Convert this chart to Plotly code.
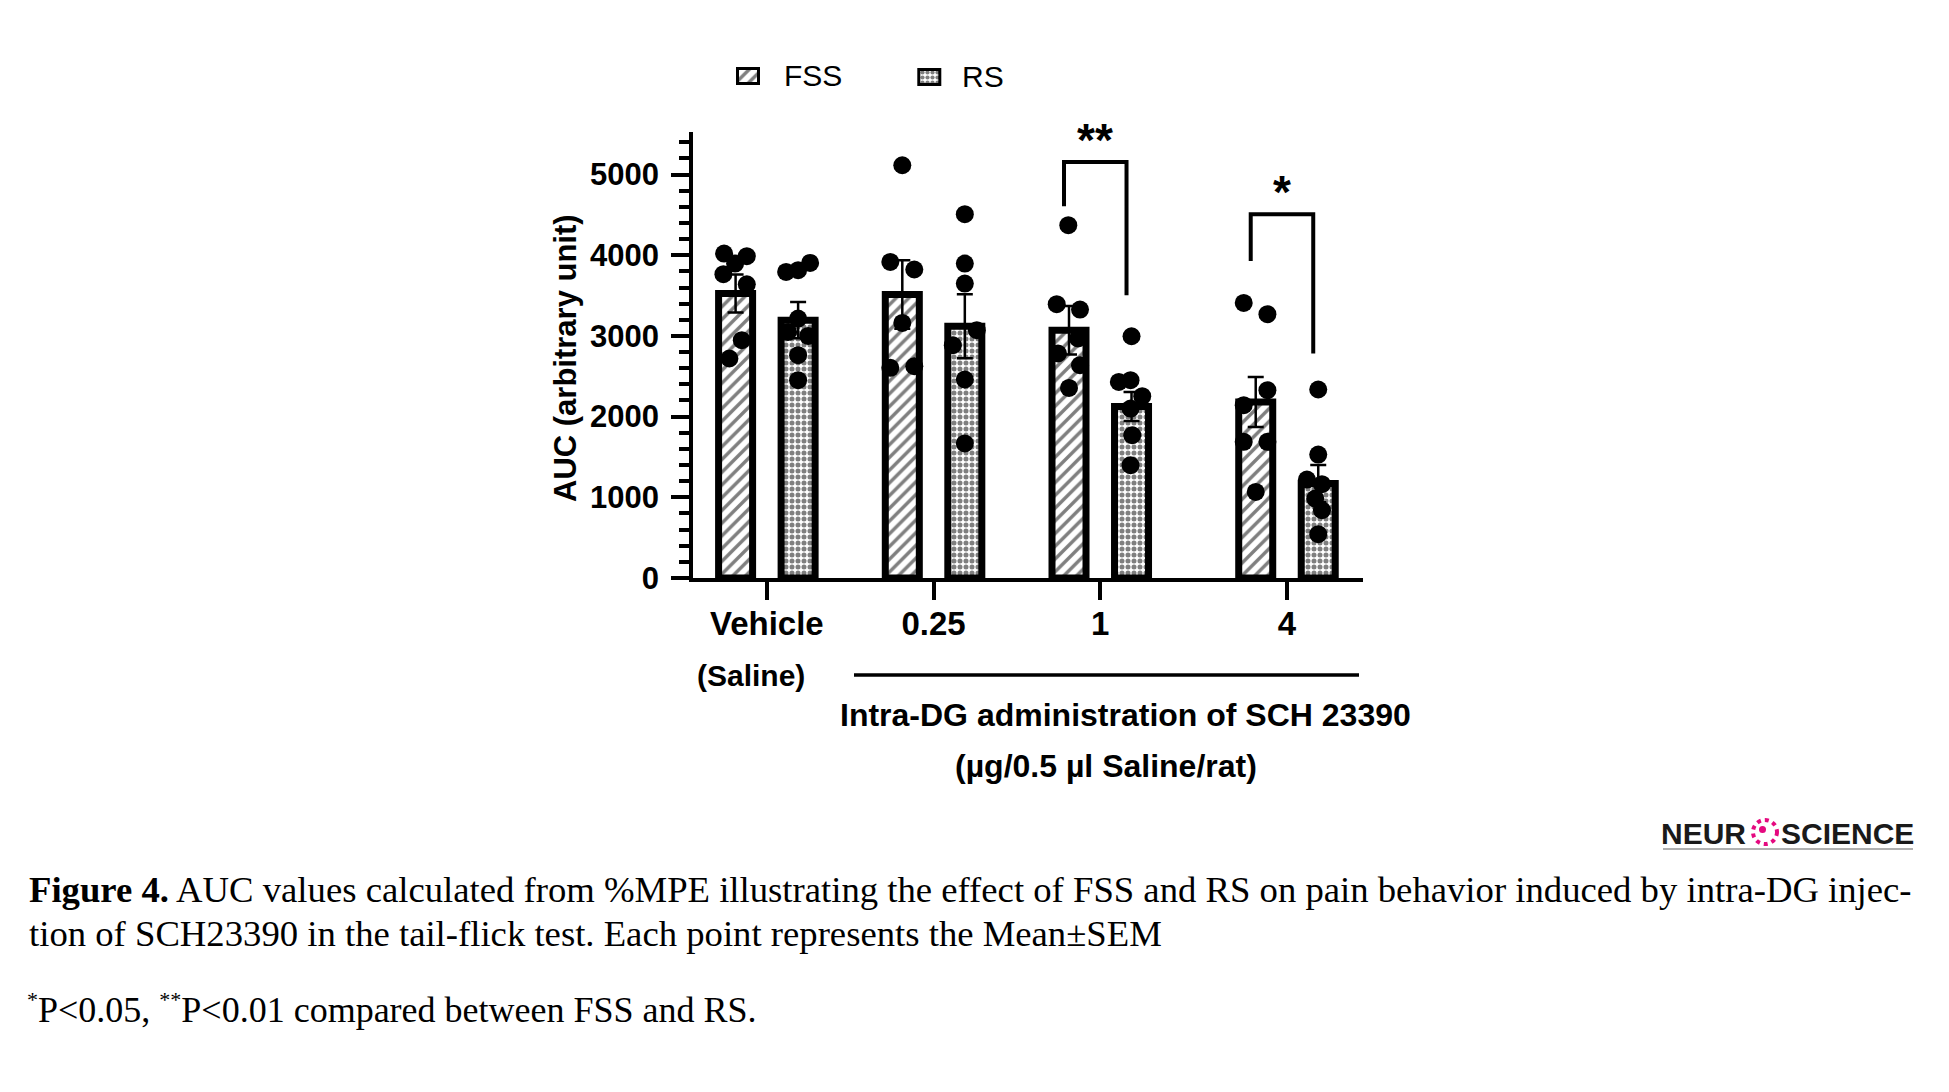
import plotly.graph_objects as go

# ---------------- data ----------------
groups = ["Vehicle", "0.25", "1", "4"]
series = ["FSS", "RS"]
fss_mean = [3525, 3513, 3070, 2182]
fss_sem = [235, 425, 300, 310]
rs_mean = [3195, 3120, 2125, 1170]
rs_sem = [225, 397, 180, 230]

fss_points = [
    [4021, 3988, 3897, 3765, 3640, 2947, 2720],
    [5115, 3917, 3823, 3161, 2604, 2624],
    [4372, 3393, 3327, 2968, 2782, 2637, 2356],
    [3409, 3269, 2327, 2141, 1687, 1687, 1067],
]
rs_points = [
    [3905, 3814, 3793, 3215, 3050, 3000, 2761, 2451],
    [4508, 3897, 3649, 3071, 2885, 2460, 1667],
    [2996, 2430, 2451, 2253, 2100, 1770, 1398],
    [2336, 1530, 1220, 1162, 985, 840, 543],
]
# horizontal spread of the dots, in pixels from the bar centre
fss_jitter_px = [
    [-11.5, 11.2, -0.5, -12.2, 11.2, 6.2, -6.2],
    [0, -12, 12, 0, -12, 12],
    [-0.7, -12.3, 11, 9, -11, 11, 0],
    [-12, 11.7, 11.7, -12, -12, 11.7, 0],
]
rs_jitter_px = [
    [12, 0, -12, 0, -10, 10, 0, 0],
    [0, 0, 0, 12, -12, 0, 0],
    [0, -12.7, -1, 10.7, -1, 0.7, -1],
    [0, 0, -11.3, 3.7, -3, 3.7, 0],
]
# significance brackets: group index, label, top, left foot, right foot
sig_marks = [(2, "**", 5156, 4607, 3504), (3, "*", 4508, 3929, 2782)]

# ---------------- layout geometry (pixels) ----------------
W, H = 1949, 1092
PL, PR, PT, PB = 693, 1363, 132, 578          # plot area edges
group_pos = [0, 1, 2, 3.12]
x_range = [-0.443, 3.576]
y_range = [0, 5527]
px_per_unit = (PR - PL) / (x_range[1] - x_range[0])
bar_off = 0.1875
bar_w = 0.204

SANS = "Liberation Sans, Arial, sans-serif"
SERIF = "Liberation Serif, Times New Roman, serif"

FSS_PAT = dict(shape="/", fgcolor="black", bgcolor="white", size=9, solidity=0.38)
RS_PAT = dict(shape=".", fgcolor="black", bgcolor="white", size=6, solidity=0.55)


def pp(xp, yp):
    return xp / W, 1 - yp / H


fig = go.Figure()

fss_x = [g - bar_off for g in group_pos]
rs_x = [g + bar_off for g in group_pos]

fig.add_trace(go.Bar(
    x=fss_x, y=fss_mean, width=bar_w, name=series[0], showlegend=False,
    marker=dict(color="white", line=dict(color="black", width=7), pattern=FSS_PAT),
    error_y=dict(type="data", array=fss_sem, color="black", thickness=2.5, width=8),
))
fig.add_trace(go.Bar(
    x=rs_x, y=rs_mean, width=bar_w, name=series[1], showlegend=False,
    marker=dict(color="white", line=dict(color="black", width=7), pattern=RS_PAT),
    error_y=dict(type="data", array=rs_sem, color="black", thickness=2.5, width=8),
))

for centers, pts, jit in ((fss_x, fss_points, fss_jitter_px), (rs_x, rs_points, rs_jitter_px)):
    xs, ys = [], []
    for c, p, j in zip(centers, pts, jit):
        for v, dj in zip(p, j):
            xs.append(c + dj / px_per_unit)
            ys.append(v)
    fig.add_trace(go.Scatter(x=xs, y=ys, mode="markers", showlegend=False,
                             marker=dict(color="black", size=18, line=dict(width=0))))

# significance brackets
for gi, lab, top, lfoot, rfoot in sig_marks:
    xl = group_pos[gi] - bar_off - 0.03
    xr = group_pos[gi] + bar_off - 0.03
    fig.add_shape(type="path", xref="x", yref="y",
                  path=f"M {xl},{lfoot} L {xl},{top} L {xr},{top} L {xr},{rfoot}",
                  line=dict(color="black", width=4))
    fig.add_annotation(x=(xl + xr) / 2, y=top, xref="x", yref="y", text=lab,
                       showarrow=False, yanchor="bottom", yshift=-6,
                       font=dict(family=SANS, size=46, color="black", weight="bold"))

# legend keys drawn as small patterned bars on a helper axis (pixel units)
fig.add_trace(go.Bar(
    x=[748, 929.3], y=[15, 15], base=[11.5, 10.5], width=21, xaxis="x2", yaxis="y2",
    showlegend=False, hoverinfo="skip",
    marker=dict(color="white", line=dict(color="black", width=3),
                pattern=dict(shape=["/", "."], fgcolor="black", bgcolor="white",
                             size=[9, 5], solidity=[0.38, 0.55])),
))


def add_text(xp, yp, text, size, weight="bold", family=SANS, xanchor="center", angle=0, color="black"):
    x, y = pp(xp, yp)
    fig.add_annotation(x=x, y=y, xref="paper", yref="paper", text=text, showarrow=False,
                       xanchor=xanchor, yanchor="middle", textangle=angle,
                       font=dict(family=family, size=size, color=color, weight=weight))


add_text(782, 76, series[0], 30, weight="normal", xanchor="left")
add_text(960, 77, series[1], 30, weight="normal", xanchor="left")

add_text(566, 358, "AUC (arbitrary unit)", 31, angle=-90)
add_text(751, 675, "(Saline)", 30)
add_text(1125, 715, "Intra-DG administration of SCH 23390", 32)
add_text(1106, 766, "(µg/0.5 µl Saline/rat)", 32)

# line under dose labels
x0, y0 = pp(854, 675)
x1, _ = pp(1359, 675)
fig.add_shape(type="line", xref="paper", yref="paper", x0=x0, x1=x1, y0=y0, y1=y0,
              line=dict(color="black", width=3.5))

# caption
star = "<sup><span style='font-size:22px'>{}</span></sup>"
add_text(27, 889, "<b>Figure 4.</b> AUC values calculated from %MPE illustrating the effect of FSS and RS on pain behavior induced by intra-DG injec-",
         36.7, weight="normal", family=SERIF, xanchor="left")
add_text(27, 933, "tion of SCH23390 in the tail-flick test. Each point represents the Mean±SEM",
         36.7, weight="normal", family=SERIF, xanchor="left")
add_text(25, 1008, star.format("*") + "P&lt;0.05, " + star.format("**") + "P&lt;0.01 compared between FSS and RS.",
         36, weight="normal", family=SERIF, xanchor="left")

# journal logo
add_text(1748, 833, "NEUR", 30, xanchor="right", color="#1a1a1a")
add_text(1779, 833, "SCIENCE", 30, xanchor="left", color="#1a1a1a")
lx0, ly = pp(1663, 849)
lx1, _ = pp(1913, 849)
fig.add_shape(type="line", xref="paper", yref="paper", x0=lx0, x1=lx1, y0=ly, y1=ly,
              line=dict(color="#b0b0b0", width=2))
cx0, cy0 = pp(1753, 820)
cx1, cy1 = pp(1777, 844)
fig.add_shape(type="circle", xref="paper", yref="paper", x0=cx0, x1=cx1, y0=cy1, y1=cy0,
              line=dict(color="#e5097f", width=4, dash="dot"))
dx0, dy0 = pp(1759, 826)
dx1, dy1 = pp(1766, 833)
fig.add_shape(type="circle", xref="paper", yref="paper", x0=dx0, x1=dx1, y0=dy1, y1=dy0,
              fillcolor="#e5097f", line=dict(width=0))

fig.update_layout(
    width=W, height=H,
    margin=dict(l=0, r=0, t=0, b=0, pad=0),
    paper_bgcolor="white", plot_bgcolor="white",
    barmode="overlay",
    showlegend=False,
    xaxis=dict(domain=[PL / W, PR / W], range=x_range, showgrid=False, zeroline=False,
               automargin=False, fixedrange=True,
               showline=True, linecolor="black", linewidth=3.5,
               ticks="outside", ticklen=18, tickwidth=3.5, tickcolor="black",
               tickvals=group_pos, ticktext=groups, ticklabelstandoff=-4,
               tickfont=dict(family=SANS, size=33, color="black", weight="bold")),
    yaxis=dict(domain=[1 - PB / H, 1 - PT / H], range=y_range, showgrid=False, zeroline=False,
               automargin=False, fixedrange=True,
               showline=True, linecolor="black", linewidth=3.5,
               ticks="outside", ticklen=18, tickwidth=3.5, tickcolor="black",
               tickvals=[0, 1000, 2000, 3000, 4000, 5000], ticklabelstandoff=6,
               tickfont=dict(family=SANS, size=31, color="black", weight="bold"),
               minor=dict(dtick=200, tick0=0, ticks="outside", ticklen=10,
                          tickwidth=3.5, tickcolor="black")),
    xaxis2=dict(domain=[700 / W, 1000 / W], range=[700, 1000], visible=False,
                automargin=False, fixedrange=True, anchor="y2"),
    yaxis2=dict(domain=[1 - 95 / H, 1 - 55 / H], range=[0, 40], visible=False,
                automargin=False, fixedrange=True, anchor="x2"),
)

fig.write_html("out.html", config={"displayModeBar": False},
               post_script="document.body.style.margin='0';document.body.style.overflow='hidden';")
